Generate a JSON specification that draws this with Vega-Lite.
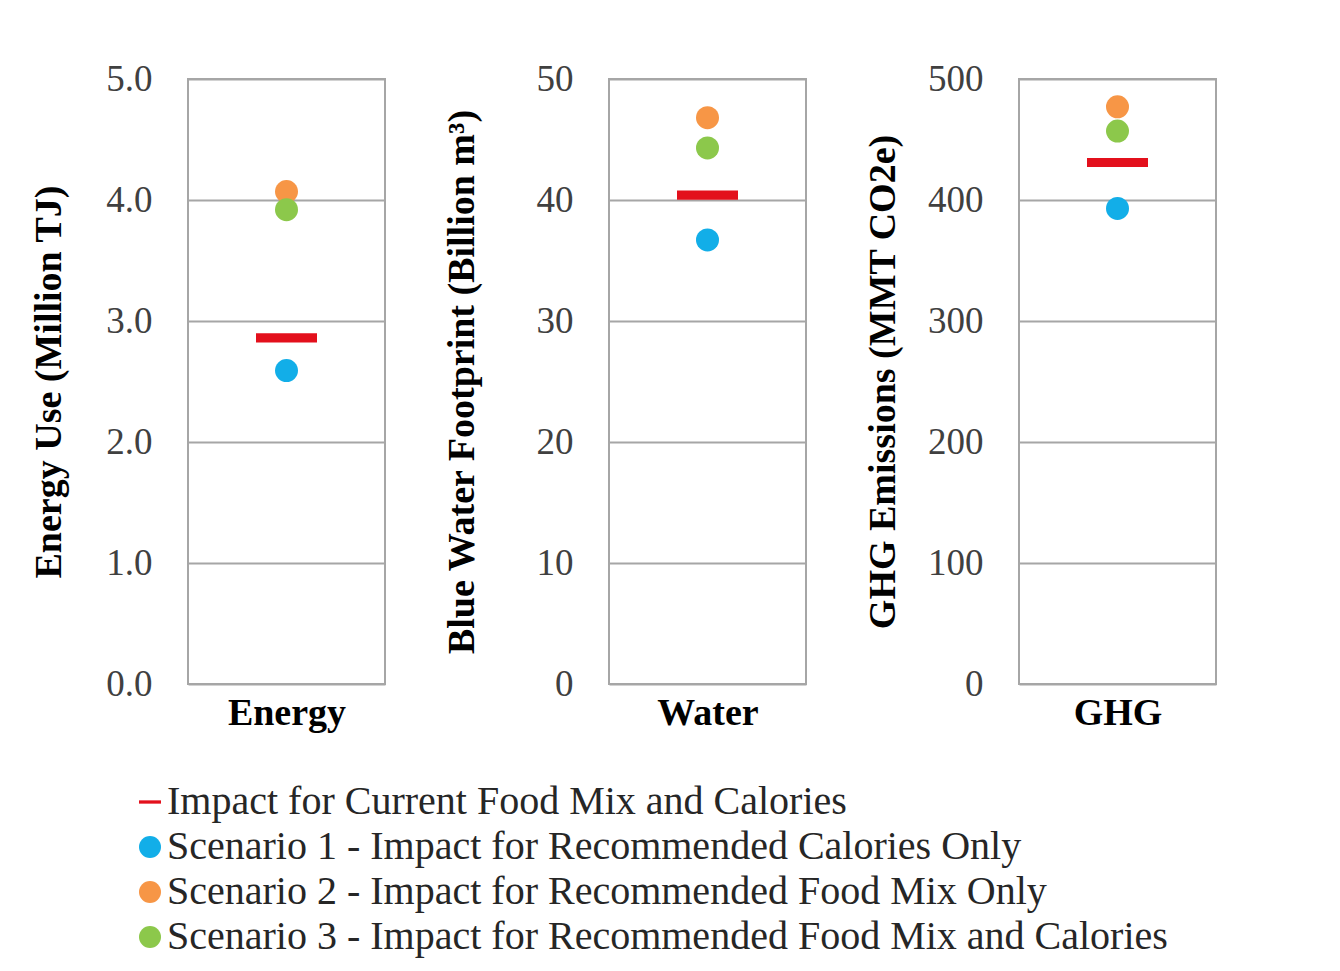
{
  "$schema": "https://vega.github.io/schema/vega-lite/v6.json",
  "background": "white",
  "padding": {"left": 29, "top": 59, "right": 5, "bottom": 5},
  "datasets": {
    "d": [
      {"metric": "Energy", "series": "Impact for Current Food Mix and Calories", "value": 2.86},
      {"metric": "Energy", "series": "Scenario 1 - Impact for Recommended Calories Only", "value": 2.59},
      {"metric": "Energy", "series": "Scenario 2 - Impact for Recommended Food Mix Only", "value": 4.07},
      {"metric": "Energy", "series": "Scenario 3 - Impact for Recommended Food Mix and Calories", "value": 3.92},
      {"metric": "Water", "series": "Impact for Current Food Mix and Calories", "value": 40.4},
      {"metric": "Water", "series": "Scenario 1 - Impact for Recommended Calories Only", "value": 36.7},
      {"metric": "Water", "series": "Scenario 2 - Impact for Recommended Food Mix Only", "value": 46.8},
      {"metric": "Water", "series": "Scenario 3 - Impact for Recommended Food Mix and Calories", "value": 44.3},
      {"metric": "GHG", "series": "Impact for Current Food Mix and Calories", "value": 431},
      {"metric": "GHG", "series": "Scenario 1 - Impact for Recommended Calories Only", "value": 393},
      {"metric": "GHG", "series": "Scenario 2 - Impact for Recommended Food Mix Only", "value": 477},
      {"metric": "GHG", "series": "Scenario 3 - Impact for Recommended Food Mix and Calories", "value": 457}
    ]
  },
  "config": {
    "font": "Liberation Serif",
    "view": {"stroke": "#a6a6a6", "strokeWidth": 2},
    "axisX": {"title": null, "labelAngle": 0, "labelFont": "Liberation Serif", "labelFontSize": 38, "labelFontWeight": "bold", "labelColor": "#000000", "domain": false, "ticks": false, "grid": false, "labelPadding": 10},
    "axisY": {"grid": true, "gridColor": "#a6a6a6", "gridWidth": 2, "domain": false, "ticks": false, "labelFont": "Liberation Serif", "labelFontSize": 37, "labelColor": "#404040", "labelPadding": 36, "titleFont": "Liberation Serif", "titleFontSize": 38, "titleFontWeight": "bold", "titleColor": "#000000"},
    "legend": {"orient": "none", "legendX": -58, "legendY": 703, "direction": "vertical", "labelFont": "Liberation Serif", "labelFontSize": 40, "labelColor": "#262626", "labelLimit": 2000, "symbolSize": 484, "rowPadding": 5, "labelOffset": -3, "padding": 0, "symbolStrokeWidth": 0}
  },
  "spacing": 56,
  "resolve": {"scale": {"color": "shared", "shape": "shared"}},
  "hconcat": [
    {
      "width": 197, "height": 605,
      "data": {"name": "d"},
      "transform": [{"filter": "datum.metric === 'Energy'"}],
      "mark": {"type": "point", "filled": true, "opacity": 1},
      "encoding": {
        "x": {"field": "metric", "type": "nominal"},
        "y": {"field": "value", "type": "quantitative", "scale": {"domain": [0, 5], "nice": false}, "axis": {"values": [0, 1, 2, 3, 4, 5], "format": ".1f", "title": "Energy Use (Million TJ)", "titlePadding": 37}},
        "color": {"field": "series", "type": "nominal", "sort": null, "title": null, "scale": {"domain": ["Impact for Current Food Mix and Calories", "Scenario 1 - Impact for Recommended Calories Only", "Scenario 2 - Impact for Recommended Food Mix Only", "Scenario 3 - Impact for Recommended Food Mix and Calories"], "range": ["#e3101c", "#12aee8", "#f79646", "#8cc84b"]}},
        "shape": {"field": "series", "type": "nominal", "sort": null, "title": null, "scale": {"domain": ["Impact for Current Food Mix and Calories", "Scenario 1 - Impact for Recommended Calories Only", "Scenario 2 - Impact for Recommended Food Mix Only", "Scenario 3 - Impact for Recommended Food Mix and Calories"], "range": ["M-1,-0.15H1V0.15H-1Z", "circle", "circle", "circle"]}},
        "size": {"condition": {"test": "datum.series === 'Impact for Current Food Mix and Calories'", "value": 3721}, "value": 529}
      }
    },
    {
      "width": 197, "height": 605,
      "data": {"name": "d"},
      "transform": [{"filter": "datum.metric === 'Water'"}],
      "mark": {"type": "point", "filled": true, "opacity": 1},
      "encoding": {
        "x": {"field": "metric", "type": "nominal"},
        "y": {"field": "value", "type": "quantitative", "scale": {"domain": [0, 50], "nice": false}, "axis": {"values": [0, 10, 20, 30, 40, 50], "format": "d", "title": "Blue Water Footprint (Billion m³)", "titlePadding": 55}},
        "color": {"field": "series", "type": "nominal", "sort": null, "title": null, "scale": {"domain": ["Impact for Current Food Mix and Calories", "Scenario 1 - Impact for Recommended Calories Only", "Scenario 2 - Impact for Recommended Food Mix Only", "Scenario 3 - Impact for Recommended Food Mix and Calories"], "range": ["#e3101c", "#12aee8", "#f79646", "#8cc84b"]}},
        "shape": {"field": "series", "type": "nominal", "sort": null, "title": null, "scale": {"domain": ["Impact for Current Food Mix and Calories", "Scenario 1 - Impact for Recommended Calories Only", "Scenario 2 - Impact for Recommended Food Mix Only", "Scenario 3 - Impact for Recommended Food Mix and Calories"], "range": ["M-1,-0.15H1V0.15H-1Z", "circle", "circle", "circle"]}},
        "size": {"condition": {"test": "datum.series === 'Impact for Current Food Mix and Calories'", "value": 3721}, "value": 529}
      }
    },
    {
      "width": 197, "height": 605,
      "data": {"name": "d"},
      "transform": [{"filter": "datum.metric === 'GHG'"}],
      "mark": {"type": "point", "filled": true, "opacity": 1},
      "encoding": {
        "x": {"field": "metric", "type": "nominal"},
        "y": {"field": "value", "type": "quantitative", "scale": {"domain": [0, 500], "nice": false}, "axis": {"values": [0, 100, 200, 300, 400, 500], "format": "d", "title": "GHG Emissions  (MMT CO2e)", "titlePadding": 25}},
        "color": {"field": "series", "type": "nominal", "sort": null, "title": null, "scale": {"domain": ["Impact for Current Food Mix and Calories", "Scenario 1 - Impact for Recommended Calories Only", "Scenario 2 - Impact for Recommended Food Mix Only", "Scenario 3 - Impact for Recommended Food Mix and Calories"], "range": ["#e3101c", "#12aee8", "#f79646", "#8cc84b"]}},
        "shape": {"field": "series", "type": "nominal", "sort": null, "title": null, "scale": {"domain": ["Impact for Current Food Mix and Calories", "Scenario 1 - Impact for Recommended Calories Only", "Scenario 2 - Impact for Recommended Food Mix Only", "Scenario 3 - Impact for Recommended Food Mix and Calories"], "range": ["M-1,-0.15H1V0.15H-1Z", "circle", "circle", "circle"]}},
        "size": {"condition": {"test": "datum.series === 'Impact for Current Food Mix and Calories'", "value": 3721}, "value": 529}
      }
    }
  ]
}
